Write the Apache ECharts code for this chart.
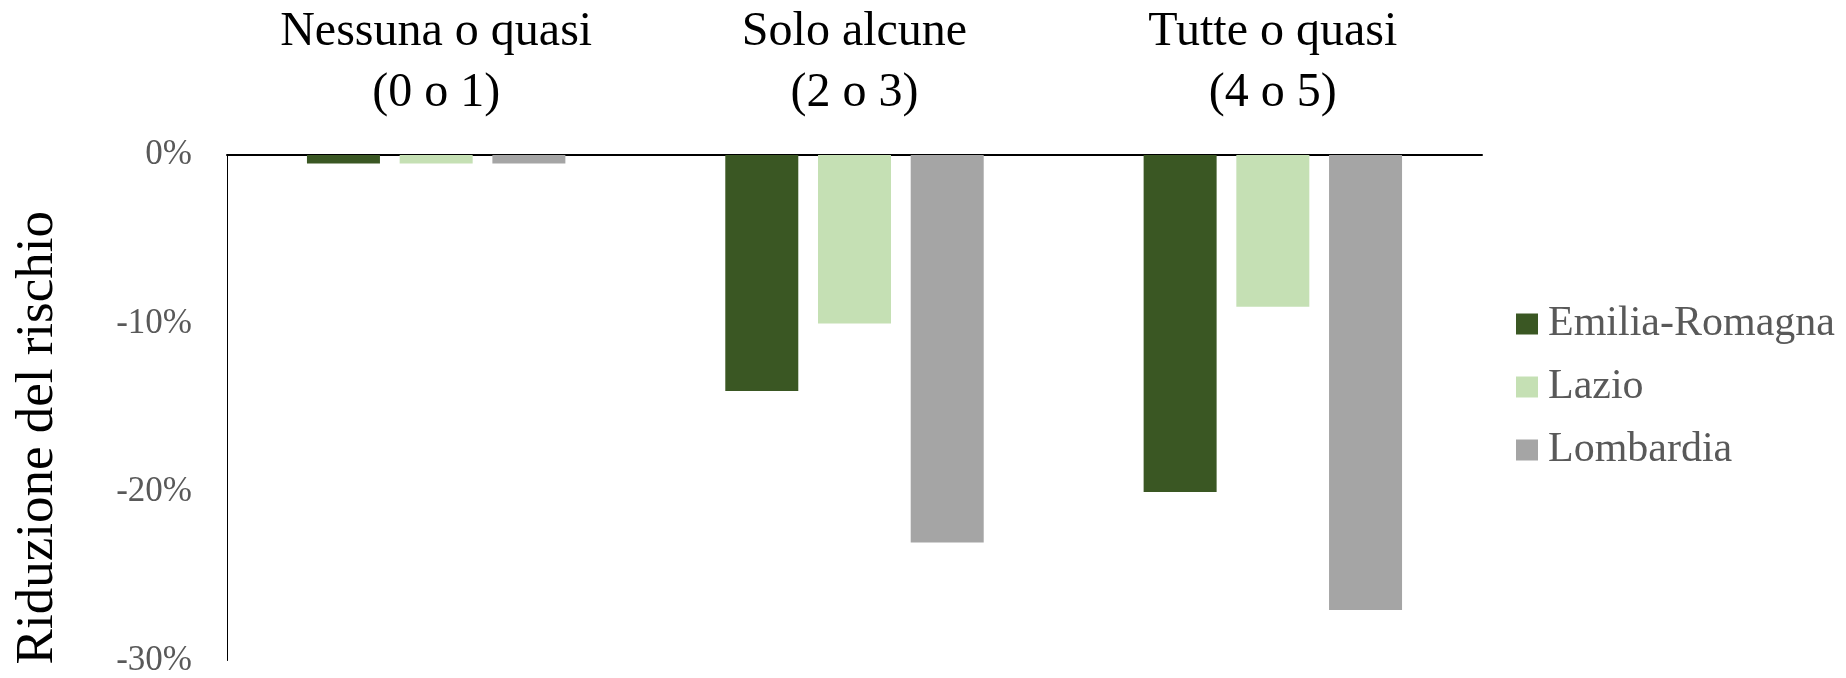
<!DOCTYPE html>
<html>
<head>
<meta charset="utf-8">
<script src="https://cdn.jsdelivr.net/npm/echarts@6/dist/echarts.min.js"></script>
<style>html,body{margin:0;padding:0;background:#fff;}#c{width:1846px;height:678px;}</style>
</head>
<body>
<div id="c"></div>
<script>
const categories = ['Nessuna o quasi\n(0 o 1)', 'Solo alcune\n(2 o 3)', 'Tutte o quasi\n(4 o 5)'];
const emiliaRomagna = [-0.5, -14, -20];
const lazio = [-0.5, -10, -9];
const lombardia = [-0.5, -23, -27];
const seriesNames = ['Emilia-Romagna', 'Lazio', 'Lombardia'];
const yTicks = { min: -30, max: 0, interval: 10 };

const font = 'Liberation Serif';
const chart = echarts.init(document.getElementById('c'));
chart.setOption({
  animation: false,
  backgroundColor: '#fff',
  grid: { left: 227, right: 364, top: 155, bottom: 16, containLabel: false },
  legend: {
    orient: 'vertical',
    left: 1511,
    top: 298,
    itemWidth: 22,
    itemHeight: 21,
    itemGap: 21,
    icon: 'rect',
    textStyle: { fontFamily: font, fontSize: 42, color: '#595959', lineHeight: 42, padding: [0, 0, 0, 5] },
    data: seriesNames
  },
  xAxis: {
    type: 'category',
    position: 'top',
    data: categories,
    axisLine: { show: true, onZero: false, lineStyle: { color: '#000', width: 2 } },
    axisTick: { show: false },
    axisLabel: { fontFamily: font, fontSize: 48, color: '#000', lineHeight: 61, margin: 31 },
    splitLine: { show: false }
  },
  yAxis: {
    type: 'value',
    min: yTicks.min,
    max: yTicks.max,
    interval: yTicks.interval,
    name: 'Riduzione del rischio',
    nameLocation: 'middle',
    nameRotate: 90,
    nameGap: 162,
    nameTextStyle: { fontFamily: font, fontSize: 53, color: '#000', padding: [0, 60, 0, 0] },
    axisLine: { show: true, lineStyle: { color: '#000', width: 1 } },
    axisTick: { show: false },
    splitLine: { show: false },
    axisLabel: { fontFamily: font, fontSize: 35, color: '#595959', margin: 35, formatter: v => (v === 0 ? 0 : v) + '%' }
  },
  series: [
    { name: seriesNames[0], type: 'bar', data: emiliaRomagna, barWidth: 73, barGap: '27%', itemStyle: { color: '#3A5723' } },
    { name: seriesNames[1], type: 'bar', data: lazio, barWidth: 73, barGap: '27%', itemStyle: { color: '#C5E0B4' } },
    { name: seriesNames[2], type: 'bar', data: lombardia, barWidth: 73, barGap: '27%', itemStyle: { color: '#A5A5A5' } }
  ]
});
</script>
</body>
</html>
